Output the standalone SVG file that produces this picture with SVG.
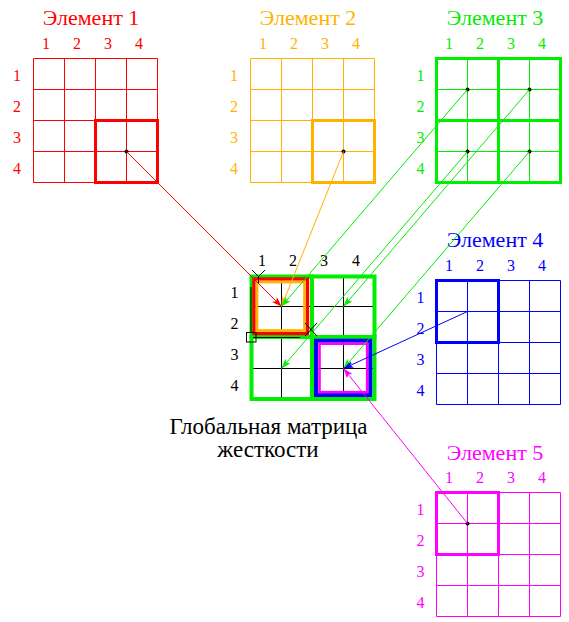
<svg xmlns="http://www.w3.org/2000/svg" width="569" height="622" viewBox="0 0 569 622" font-family="Liberation Serif">
<style>
text{font-family:"Liberation Serif","Times New Roman",serif}
.t{font-size:22px;text-anchor:middle}
.n{font-size:16px;text-anchor:middle}
.cap{font-size:23px;text-anchor:middle;fill:#000}
.g{fill:none;stroke-width:1}
.thick{fill:none;stroke-width:3}
.dot{fill:#000}
.c{fill:none;stroke-width:1}
.red{stroke:#ff0000}
.redf{fill:#ff0000}
.org{stroke:#ffb300}
.orgf{fill:#ffb300}
.grn{stroke:#00ee00}
.grnf{fill:#00ee00}
.blu{stroke:#0000ff}
.bluf{fill:#0000ff}
.mag{stroke:#ff00ff}
.magf{fill:#ff00ff}
.blk{stroke:#000}
</style>
<defs>
<marker id="aR" markerUnits="userSpaceOnUse" markerWidth="11" markerHeight="8" refX="10" refY="3.5" orient="auto"><path d="M0,0 L10,3.5 L0,7 L2.5,3.5 Z" fill="#ff0000"/></marker>
<marker id="aO" markerUnits="userSpaceOnUse" markerWidth="11" markerHeight="8" refX="10" refY="3.5" orient="auto"><path d="M0,0 L10,3.5 L0,7 L2.5,3.5 Z" fill="#ffb300"/></marker>
<marker id="aG" markerUnits="userSpaceOnUse" markerWidth="11" markerHeight="8" refX="10" refY="3.5" orient="auto"><path d="M0,0 L10,3.5 L0,7 L2.5,3.5 Z" fill="#00ee00"/></marker>
<marker id="aB" markerUnits="userSpaceOnUse" markerWidth="11" markerHeight="8" refX="10" refY="3.5" orient="auto"><path d="M0,0 L10,3.5 L0,7 L2.5,3.5 Z" fill="#0000ff"/></marker>
<marker id="aM" markerUnits="userSpaceOnUse" markerWidth="11" markerHeight="8" refX="10" refY="3.5" orient="auto"><path d="M0,0 L10,3.5 L0,7 L2.5,3.5 Z" fill="#ff00ff"/></marker>
</defs>
<rect width="569" height="622" fill="#fff"/>

<g id="element1">
<text class="t redf" x="91" y="25">Элемент 1</text>
<g class="n redf"><text x="46" y="49">1</text><text x="77" y="49">2</text><text x="108" y="49">3</text><text x="139" y="49">4</text>
<text x="17" y="81">1</text><text x="17" y="112">2</text><text x="17" y="143">3</text><text x="17" y="174">4</text></g>
<path class="g red" d="M33.5,58.5H157.5M33.5,89.5H157.5M33.5,120.5H157.5M33.5,151.5H157.5M33.5,182.5H157.5M33.5,58.5V182.5M64.5,58.5V182.5M95.5,58.5V182.5M126.5,58.5V182.5M157.5,58.5V182.5"/>
<rect class="thick red" x="95.5" y="120.5" width="62" height="62"/>
<circle class="dot" cx="126.5" cy="151.5" r="2"/>
</g>

<g id="element2">
<text class="t orgf" x="308" y="25">Элемент 2</text>
<g class="n orgf"><text x="263" y="49">1</text><text x="294" y="49">2</text><text x="325" y="49">3</text><text x="356" y="49">4</text>
<text x="234" y="81">1</text><text x="234" y="112">2</text><text x="234" y="143">3</text><text x="234" y="174">4</text></g>
<path class="g org" d="M250.5,58.5H374.5M250.5,89.5H374.5M250.5,120.5H374.5M250.5,151.5H374.5M250.5,182.5H374.5M250.5,58.5V182.5M281.5,58.5V182.5M312.5,58.5V182.5M343.5,58.5V182.5M374.5,58.5V182.5"/>
<rect class="thick org" x="312.5" y="120.5" width="62" height="62"/>
<circle class="dot" cx="343.5" cy="151.5" r="2"/>
</g>

<g id="element3">
<text class="t grnf" x="495" y="25">Элемент 3</text>
<g class="n grnf"><text x="449" y="49">1</text><text x="480" y="49">2</text><text x="511" y="49">3</text><text x="542" y="49">4</text>
<text x="420.5" y="81">1</text><text x="420.5" y="112">2</text><text x="420.5" y="143">3</text><text x="420.5" y="174">4</text></g>
<path class="g grn" d="M436.5,89.5H560.5M436.5,151.5H560.5M467.5,58.5V182.5M529.5,58.5V182.5"/>
<path class="thick grn" d="M436.5,58.5H560.5V182.5H436.5Z M498.5,58.5V182.5 M436.5,120.5H560.5"/>
<circle class="dot" cx="467.5" cy="89.5" r="2"/>
<circle class="dot" cx="529.5" cy="89.5" r="2"/>
<circle class="dot" cx="467.5" cy="151.5" r="2"/>
<circle class="dot" cx="529.5" cy="151.5" r="2"/>
</g>

<g id="element4">
<text class="t bluf" x="495" y="247">Элемент 4</text>
<g class="n bluf"><text x="449" y="271">1</text><text x="480" y="271">2</text><text x="511" y="271">3</text><text x="542" y="271">4</text>
<text x="420.5" y="303">1</text><text x="420.5" y="334">2</text><text x="420.5" y="365">3</text><text x="420.5" y="396">4</text></g>
<path class="g blu" d="M436.5,280.5H560.5M436.5,311.5H560.5M436.5,342.5H560.5M436.5,373.5H560.5M436.5,404.5H560.5M436.5,280.5V404.5M467.5,280.5V404.5M498.5,280.5V404.5M529.5,280.5V404.5M560.5,280.5V404.5"/>
<rect class="thick blu" x="436.5" y="280.5" width="62" height="62"/>
</g>

<g id="element5">
<text class="t magf" x="495" y="460">Элемент 5</text>
<g class="n magf"><text x="449" y="483">1</text><text x="480" y="483">2</text><text x="511" y="483">3</text><text x="542" y="483">4</text>
<text x="420.5" y="515">1</text><text x="420.5" y="546">2</text><text x="420.5" y="577">3</text><text x="420.5" y="608">4</text></g>
<path class="g mag" d="M436.5,492.5H560.5M436.5,523.5H560.5M436.5,554.5H560.5M436.5,585.5H560.5M436.5,616.5H560.5M436.5,492.5V616.5M467.5,492.5V616.5M498.5,492.5V616.5M529.5,492.5V616.5M560.5,492.5V616.5"/>
<rect class="thick mag" x="436.5" y="492.5" width="62" height="62"/>
<circle class="dot" cx="467.5" cy="523.5" r="2"/>
</g>

<g id="global">
<g class="n" fill="#000"><text x="262" y="266">1</text><text x="293" y="266">2</text><text x="324" y="266">3</text><text x="356" y="266">4</text>
<text x="234.5" y="298">1</text><text x="234.5" y="329">2</text><text x="234.5" y="360">3</text><text x="234.5" y="391">4</text></g>
<path class="g blk" d="M250.5,275.5H374.5M250.5,306.5H374.5M250.5,337.5H374.5M250.5,368.5H374.5M250.5,399.5H374.5M250.5,275.5V399.5M281.5,275.5V399.5M312.5,275.5V399.5M343.5,275.5V399.5M374.5,275.5V399.5"/>
<g fill="none" stroke="#00ee00" stroke-width="4">
<rect x="251.5" y="276.5" width="60.5" height="60.5"/>
<rect x="312" y="276.5" width="62.5" height="60.5"/>
<rect x="251.5" y="337" width="60.5" height="62"/>
<rect x="312" y="337" width="62.5" height="62"/>
</g>
<rect x="254" y="279" width="53.5" height="54.5" fill="none" stroke="#ff0000" stroke-width="3.4"/>
<rect x="257" y="282" width="47.5" height="48.5" fill="none" stroke="#ffb300" stroke-width="2.7"/>
<rect x="316" y="340.7" width="54.3" height="54.3" fill="none" stroke="#0000ff" stroke-width="4"/>
<rect x="319.5" y="343.7" width="47.7" height="48.5" fill="none" stroke="#ff00ff" stroke-width="2.6"/>
</g>

<g id="caption">
<text class="cap" x="268.5" y="434">Глобальная матрица</text>
<text class="cap" x="268" y="457">жесткости</text>
</g>

<g id="connectors">
<line class="c red" x1="126.5" y1="151.5" x2="281.5" y2="306.5" marker-end="url(#aR)"/>
<line class="c org" x1="343.5" y1="151.5" x2="281.5" y2="306.5" marker-end="url(#aO)"/>
<line class="c grn" x1="467.5" y1="89.5" x2="281.5" y2="306.5" marker-end="url(#aG)"/>
<line class="c grn" x1="529.5" y1="89.5" x2="343.5" y2="306.5" marker-end="url(#aG)"/>
<line class="c grn" x1="467.5" y1="151.5" x2="281.5" y2="368.5" marker-end="url(#aG)"/>
<line class="c grn" x1="529.5" y1="151.5" x2="343.5" y2="368.5" marker-end="url(#aG)"/>
<line class="c blu" x1="467.5" y1="311.5" x2="343.5" y2="368.5" marker-end="url(#aB)"/>
<line class="c mag" x1="467.5" y1="523.5" x2="343.5" y2="368.5" marker-end="url(#aM)"/>
</g>

<g id="marks" fill="none" stroke="#000" stroke-width="1">
<path d="M252,270L258.5,276.5L265,270M258.5,276.5V283"/>
<path d="M305,323L317,336M317,323L305,336"/>
<rect x="246.5" y="332.5" width="9.5" height="9.5"/>
<path d="M251,287V332M253,337.5H300"/>
</g>
</svg>
